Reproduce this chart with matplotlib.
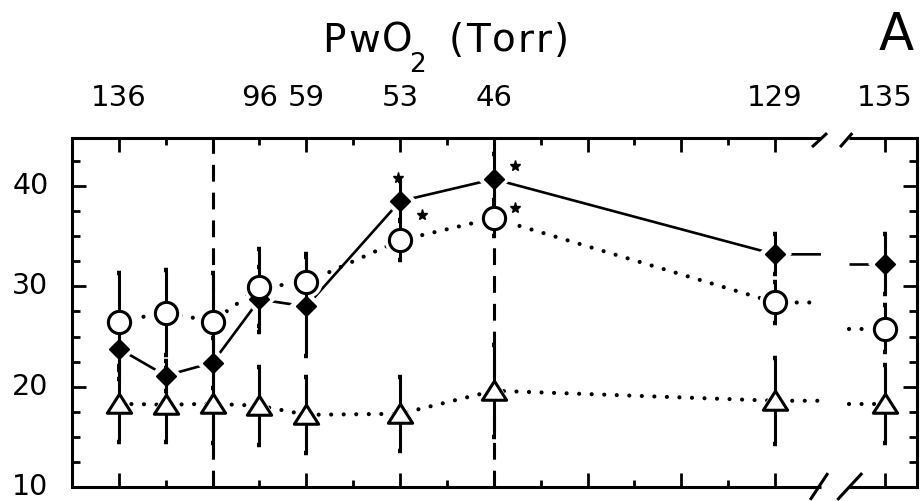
import matplotlib
matplotlib.use("Agg")
import matplotlib.pyplot as plt
from matplotlib.path import Path
from matplotlib.ticker import MultipleLocator, FixedLocator
from matplotlib.transforms import offset_copy, blended_transform_factory, ScaledTranslation

plt.rcParams["font.family"] = ["DejaVu Sans"]

# sample positions along the time axis (tick units); the last one sits past the break
x_pos = [1, 2, 3, 4, 5, 7, 9, 15, 17.35]
break_lo, break_hi = 15.98, 16.58

# PwO2 (Torr) labels along the top
pwo2_pos = [1, 4, 5, 7, 9, 15, 17.35]
pwo2_labels = ["136", "96", "59", "53", "46", "129", "135"]

# three series: mean and error half-width
diamond_y = [23.8, 21.1, 22.4, 28.7, 28.0, 38.5, 40.7, 33.2, 32.2]
diamond_err = [3.0, 1.5, 2.5, 3.2, 4.9, 2.0, 2.5, 2.0, 3.0]
circle_y = [26.5, 27.4, 26.5, 29.9, 30.4, 34.6, 36.8, 28.4, 25.8]
circle_err = [4.8, 4.2, 4.8, 3.8, 2.8, 2.0, 1.8, 2.0, 2.3]
tri_y = [18.3, 18.2, 18.3, 18.1, 17.2, 17.3, 19.6, 18.6, 18.3]
tri_err = [3.8, 3.7, 3.9, 3.9, 3.8, 3.7, 4.6, 4.3, 3.9]

# significance stars: (series, point index, offset x px, offset y px)
stars = [("diamond", 5, -2, 23), ("circle", 5, 22, 25),
         ("diamond", 6, 21, 13), ("circle", 6, 21, 10)]

# vertical reference lines
ref_x = [3, 9]

fig = plt.figure(figsize=(9.21, 5.01), dpi=100)
ax = fig.add_axes([72 / 921, 1 - 487 / 501, (917 - 72) / 921, (487 - 138) / 501])
ax.set_xlim(0, 18.03)
ax.set_ylim(10, 44.8)

LW = 2.2
dotted = (0, (0.01, 3.0))

def split(yv):
    """Segments before and after the axis break, each running out to it."""
    xa = list(x_pos[:-1]) + [break_lo]
    ya = list(yv[:-1]) + [yv[-2]]
    xb = [break_hi, x_pos[-1]]
    yb = [yv[-1], yv[-1]]
    return (xa, ya), (xb, yb)

# wide, flat open triangle
tri_marker = Path([(-1, -0.72), (1, -0.72), (0, 0.85), (-1, -0.72)], closed=True)

series = {
    "diamond": dict(y=diamond_y, err=diamond_err, ls="-", lw=1.9,
                    marker="D", ms=10.5, mfc="black", mew=1.0),
    "circle": dict(y=circle_y, err=circle_err, ls=dotted, lw=3.0,
                   marker="o", ms=16, mfc="white", mew=2.2),
    "triangle": dict(y=tri_y, err=tri_err, ls=dotted, lw=3.0,
                     marker=tri_marker, ms=17.5, mfc="white", mew=2.2),
}

for name, s in series.items():
    for xs, ys in split(s["y"]):
        ax.plot(xs, ys, color="black", lw=s["lw"], ls=s["ls"],
                dash_capstyle="round", solid_capstyle="butt", zorder=1)
    # white halo so connecting lines stop short of the symbols
    ax.plot(x_pos, s["y"], ls="none", marker=s["marker"], ms=s["ms"] + 7,
            mfc="white", mec="white", mew=0, zorder=2)

for name, s in series.items():
    ax.errorbar(x_pos, s["y"], yerr=s["err"], fmt="none", ecolor="black",
                elinewidth=LW, capsize=1.6, capthick=3.2, zorder=3)

for name, s in series.items():
    ax.plot(x_pos, s["y"], ls="none", marker=s["marker"], ms=s["ms"],
            mfc=s["mfc"], mec="black", mew=s["mew"], zorder=4)

for name, i, dx, dy in stars:
    tr = offset_copy(ax.transData, fig=fig, x=dx, y=dy, units="dots")
    ax.plot([x_pos[i]], [series[name]["y"][i]], marker="*", ms=8,
            color="black", ls="none", transform=tr, zorder=5, clip_on=False)

for xv in ref_x:
    ax.axvline(xv, color="black", lw=LW, ls=(0, (5.5, 3.6)), zorder=0.5)

# frame: top and bottom spines drawn in two pieces around the break
for side in ("top", "bottom"):
    ax.spines[side].set_visible(False)
for side in ("left", "right"):
    ax.spines[side].set_linewidth(LW)

btr = blended_transform_factory(ax.transData, ax.transAxes)
for yy in (0, 1):
    ax.plot([0, break_lo], [yy, yy], color="black", lw=LW, transform=btr,
            clip_on=False, solid_capstyle="butt", zorder=6)
    ax.plot([break_hi, 18.03], [yy, yy], color="black", lw=LW, transform=btr,
            clip_on=False, solid_capstyle="butt", zorder=6)

# break slashes
for x0, x1, y0, y1 in [(15.79, 16.11, 0.974, 1.014), (16.39, 16.65, 0.974, 1.014),
                       (15.75, 16.13, -0.037, 0.040), (16.33, 16.86, -0.037, 0.040)]:
    ax.plot([x0, x1], [y0, y1], color="black", lw=LW, transform=btr,
            clip_on=False, solid_capstyle="butt", zorder=6)

# ticks
ax.xaxis.set_major_locator(FixedLocator([1, 3, 5, 7, 9, 11, 13, 15, 17.35]))
ax.xaxis.set_minor_locator(FixedLocator([2, 4, 6, 8, 10, 12, 14]))
ax.yaxis.set_major_locator(FixedLocator([10, 20, 30, 40]))
ax.yaxis.set_minor_locator(MultipleLocator(2.5))
ax.tick_params(which="both", direction="in", top=True, right=True,
               labelbottom=False, width=2.0)
ax.tick_params(axis="x", which="major", length=10)
ax.tick_params(axis="x", which="minor", length=5)
ax.tick_params(axis="y", which="major", length=10, labelsize=20.5, pad=17)
ax.tick_params(axis="y", which="minor", length=6)
lift = ScaledTranslation(0, 3 / 100, fig.dpi_scale_trans)
for t in ax.yaxis.get_major_ticks():
    t.label1.set_transform(t.label1.get_transform() + lift)

sec = ax.secondary_xaxis("top")
sec.set_xticks(pwo2_pos)
sec.set_xticklabels(pwo2_labels)
sec.tick_params(length=0, pad=19, labelsize=21)
sec.spines["top"].set_visible(False)

renderer = fig.canvas.get_renderer()

def spaced_text(x_px, y_px, s, size, track_px):
    """Write s letter by letter from x_px (pixels), with extra spacing between letters."""
    x = x_px
    for ch in s:
        t = fig.text(x / 921, 1 - y_px / 501, ch, ha="left", va="baseline", fontsize=size)
        x = t.get_window_extent(renderer).x1 + track_px
    return x

# heading: PwO2 with a lowered subscript, then the unit
end = spaced_text(322, 52, "PwO", 28, 2.5)
spaced_text(end - 6, 72, "2", 19, 0)
spaced_text(449, 52, "(Torr)", 28, 2.0)
fig.text(896 / 921, 1 - 50 / 501, "A", ha="center", va="baseline", fontsize=37)

fig.savefig("out.png", dpi=100)
